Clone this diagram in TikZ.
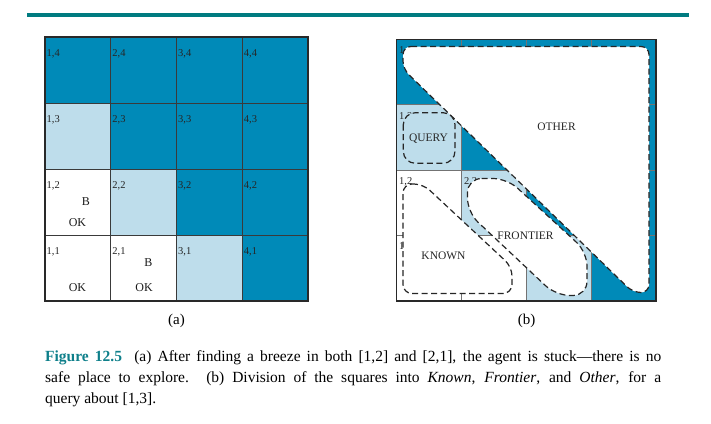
\documentclass[tikz,border=0pt]{standalone}
\usepackage{fontspec}
\setmainfont{Liberation Serif}
\definecolor{dk}{HTML}{008AB8}
\definecolor{lt}{HTML}{BEDDEB}
\definecolor{rulec}{HTML}{007B80}
\definecolor{capc}{HTML}{0E7F8A}
\definecolor{gl}{HTML}{3A3A3A}
\begin{document}
\begin{tikzpicture}[x=1pt,y=-1pt,
  gridline/.style={draw=gl,line width=0.9pt},
  gridlineb/.style={draw=black!55,line width=0.9pt},
  border/.style={draw=gl!70!black,line width=1.6pt},
  celllab/.style={font=\fontsize{10.5}{11}\selectfont,text=black!85,anchor=west,inner sep=0pt},
  txt/.style={font=\fontsize{12}{13}\selectfont,text=black!90,inner sep=0pt},
  blobtxt/.style={font=\fontsize{11.5}{12}\selectfont,text=black!85,inner sep=0pt},
  blob/.style={draw=black!85,line width=1.2pt,dash pattern=on 6pt off 3.5pt},
]
\useasboundingbox (0,0) rectangle (711,423);
% top rule
\fill[rulec] (27,13) rectangle (689,17);

% ---------- grid (a) ----------
\foreach \c/\r/\col in {1/4/dk,2/4/dk,3/4/dk,4/4/dk,
                        1/3/lt,2/3/dk,3/3/dk,4/3/dk,
                        1/2/white,2/2/lt,3/2/dk,4/2/dk,
                        1/1/white,2/1/white,3/1/lt,4/1/dk}{
  \fill[\col] ({45+(\c-1)*65.75},{37+(4-\r)*66}) rectangle ++(65.75,66);
}
\foreach \i in {1,2,3}{
  \draw[gridline] ({45+\i*65.75},37) -- ({45+\i*65.75},301);
  \draw[gridline] (45,{37+\i*66}) -- (308,{37+\i*66});
}
\draw[border] (45,37) rectangle (308,301);
\foreach \c in {1,...,4}{
  \foreach \r in {1,...,4}{
    \node[celllab] (a\c\r) at ({45+(\c-1)*65.75+1.5},{37+(4-\r)*66+16.5}) {\c,\r};
  }
}
\node[txt] (aB12) at (86,202) {B};
\node[txt] (aOK12) at (77.5,223) {OK};
\node[txt] (aOK11) at (77.5,288) {OK};
\node[txt] (aB21) at (148.3,263) {B};
\node[txt] (aOK21) at (144,288) {OK};
\node[font=\fontsize{15}{16}\selectfont] (capa) at (176.5,321) {(a)};

% ---------- grid (b) ----------
\foreach \c/\r/\col in {1/4/dk,2/4/dk,3/4/dk,4/4/dk,
                        1/3/lt,2/3/dk,3/3/dk,4/3/dk,
                        1/2/white,2/2/lt,3/2/dk,4/2/dk,
                        1/1/white,2/1/white,3/1/lt,4/1/dk}{
  \fill[\col] ({396.5+(\c-1)*64.875},{39.5+(4-\r)*65.375}) rectangle ++(64.875,65.375);
}
\foreach \i in {1,2,3}{
  \draw[gridlineb] ({396.5+\i*64.875},39.5) -- ({396.5+\i*64.875},301);
  \draw[gridlineb] (396.5,{39.5+\i*65.375}) -- (656,{39.5+\i*65.375});
}
\foreach \c in {1,...,4}{
  \foreach \r in {1,...,4}{
    \node[celllab] (b\c\r) at ({396.5+(\c-1)*64.875+2.5},{39.5+(4-\r)*65.375+11.5}) {\c,\r};
  }
}
% regions
\draw[blob,fill=white,rounded corners=8pt] (403,46.5) -- (649,46.5) -- (649,292.5) -- (633,292.5) -- (403,69) -- cycle;
\draw[blob,fill=lt,rounded corners=12pt] (403.3,112.7) rectangle (455,163.3);
\draw[blob,fill=white,rounded corners=14pt] (467.5,178.5) -- (507,178.5) -- (587,252) -- (587,295.5) -- (556,295.5) -- (467.5,212.3) -- cycle;
\draw[blob,fill=white,rounded corners=9pt] (403,184) -- (423,184) -- (512,267) -- (512,293.5) -- (403,293.5) -- cycle;
\draw[border] (396.5,39.5) rectangle (656,301);
\node[blobtxt] (query) at (428.5,139) {QUERY};
\node[blobtxt] (other) at (556.5,127) {OTHER};
\node[blobtxt] (frontier) at (525.5,236) {FRONTIER};
\node[blobtxt] (known) at (443.5,256) {KNOWN};
\node[font=\fontsize{15}{16}\selectfont] (capb) at (526.5,321) {(b)};

% caption
\node[anchor=base west,text width=616pt,align=justify,inner sep=0pt,
      font=\fontsize{15.5}{21}\selectfont] (caption) at (45,361)
{{\color{capc}\textbf{Figure 12.5}}\hspace{0.4em} (a) After finding a breeze in both [1,2] and [2,1], the agent is stuck---there is no\linebreak
safe place to explore. (b) Division of the squares into \textit{Known}, \textit{Frontier}, and \textit{Other}, for a\linebreak
query about [1,3].};
\end{tikzpicture}
\end{document}
